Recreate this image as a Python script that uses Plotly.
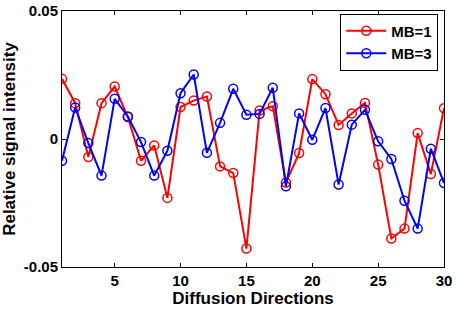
import plotly.graph_objects as go

directions = list(range(1, 31))
mb1 = [0.0235, 0.014, -0.007, 0.014, 0.0205, 0.0086, -0.0085, -0.0025, -0.023, 0.0125,
       0.015, 0.0166, -0.0107, -0.0133, -0.0428, 0.0111, 0.0128, -0.017, -0.0055, 0.0234,
       0.0175, 0.0055, 0.0100, 0.0141, -0.010, -0.0389, -0.035, 0.0023, -0.0137, 0.012]
mb3 = [-0.0085, 0.0123, -0.0016, -0.0143, 0.0157, 0.0088, -0.0012, -0.0143, -0.0046, 0.0179,
       0.0252, -0.0054, 0.0063, 0.0196, 0.0095, 0.0098, 0.020, -0.0185, 0.0100, -0.0003,
       0.0121, -0.0178, 0.0056, 0.0114, -0.0009, -0.0078, -0.0241, -0.035, -0.0038, -0.0172]
x_ticks = [5, 10, 15, 20, 25, 30]
x_ticktext = ["<b>5</b>", "<b>10</b>", "<b>15</b>", "<b>20</b>", "<b>25</b>", "<b>30</b>"]
y_ticks = [-0.05, 0, 0.05]
y_ticktext = ["<b>-0.05</b>", "<b>0</b>", "<b>0.05</b>"]

font_family = "Liberation Sans, Arial, sans-serif"

fig = go.Figure()
fig.add_trace(go.Scatter(x=directions, y=mb1, name="<b>MB=1</b>", mode="lines+markers",
                         line=dict(color="#ff0000", width=2),
                         marker=dict(symbol="circle-open", size=9, color="#ff0000",
                                     line=dict(width=1.5, color="#ff0000"))))
fig.add_trace(go.Scatter(x=directions, y=mb3, name="<b>MB=3</b>", mode="lines+markers",
                         line=dict(color="#0000ff", width=2),
                         marker=dict(symbol="circle-open", size=9, color="#0000ff",
                                     line=dict(width=1.5, color="#0000ff"))))

axis_common = dict(showgrid=False, zeroline=False, showline=True, linecolor="black",
                   linewidth=1, mirror="allticks", ticks="inside", ticklen=4,
                   tickcolor="black", automargin=False,
                   tickfont=dict(family=font_family, size=15, color="black"))

fig.update_xaxes(range=[1, 30], tickvals=x_ticks, ticktext=x_ticktext,
                 title=dict(text="<b>Diffusion Directions</b>",
                            font=dict(family=font_family, size=17, color="black"), standoff=2),
                 **axis_common)
fig.update_yaxes(range=[-0.05, 0.05], tickvals=y_ticks, ticktext=y_ticktext,
                 title=dict(text="<b>Relative signal intensity</b>",
                            font=dict(family=font_family, size=17, color="black"), standoff=6),
                 **axis_common)

fig.update_layout(
    width=456, height=309,
    margin=dict(l=62, r=12, t=11, b=42),
    paper_bgcolor="white", plot_bgcolor="white",
    showlegend=True,
    legend=dict(x=0.985, y=0.99, xanchor="right", yanchor="top",
                bgcolor="white", bordercolor="black", borderwidth=1,
                font=dict(family=font_family, size=15, color="black"),
                itemwidth=40, tracegroupgap=0),
)

fig.write_html("out.html", config={"displayModeBar": False},
               post_script="document.body.style.margin='0';document.body.style.overflow='hidden';")
